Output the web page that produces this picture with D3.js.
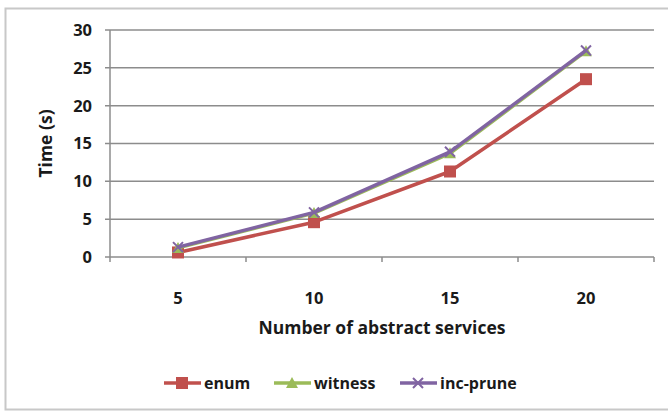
<!DOCTYPE html>
<html>
<head>
<meta charset="utf-8">
<script src="https://cdn.jsdelivr.net/npm/d3@7"></script>
<style>
  body { margin: 0; background: #fff; }
  svg { display: block; font-family: "Open Sans", "Liberation Sans", sans-serif; }
</style>
</head>
<body>
<div id="chart"></div>
<script>
// Time vs number of abstract services

const categories = ["5", "10", "15", "20"];
const enumValues = [0.6, 4.6, 11.3, 23.5];
const witnessValues = [1.2, 5.8, 13.7, 27.2];
const incPruneValues = [1.3, 5.9, 13.9, 27.3];
const yTicks = [0, 5, 10, 15, 20, 25, 30];

const seriesNames = ["enum", "witness", "inc-prune"];
const seriesColors = ["#c0504d", "#9bbb59", "#8064a2"];
const seriesValues = [enumValues, witnessValues, incPruneValues];

const width = 668;
const height = 411;
const margin = { top: 30, right: 14, bottom: 154, left: 110 };

const svg = d3.select("#chart")
  .append("svg")
  .attr("width", width)
  .attr("height", height);

// outer frame
svg.append("rect")
  .attr("x", 5.5)
  .attr("y", 8.5)
  .attr("width", 670)
  .attr("height", 401)
  .attr("fill", "#fff")
  .attr("stroke", "#c8c8c8")
  .attr("stroke-width", 2);

const x = d3.scaleBand()
  .domain(categories)
  .range([margin.left, width - margin.right]);

const y = d3.scaleLinear()
  .domain([0, 30])
  .range([height - margin.bottom, margin.top]);

// --- GRID ---
svg.append("g")
  .selectAll("line")
  .data(yTicks)
  .join("line")
  .attr("x1", margin.left - 5)
  .attr("x2", width - margin.right)
  .attr("y1", d => y(d))
  .attr("y2", d => y(d))
  .attr("stroke", "#8c8c8c")
  .attr("stroke-width", 1.5);

// y axis line
svg.append("line")
  .attr("x1", margin.left)
  .attr("x2", margin.left)
  .attr("y1", y(30))
  .attr("y2", y(0))
  .attr("stroke", "#8c8c8c")
  .attr("stroke-width", 1.5);

// x category ticks
const boundaries = categories.map(c => x(c)).concat([x.range()[1]]);
svg.append("g")
  .selectAll("line")
  .data(boundaries)
  .join("line")
  .attr("x1", d => d)
  .attr("x2", d => d)
  .attr("y1", y(0))
  .attr("y2", y(0) + 5)
  .attr("stroke", "#8c8c8c")
  .attr("stroke-width", 1.5);

// y tick labels
svg.append("g")
  .selectAll("text")
  .data(yTicks)
  .join("text")
  .attr("x", margin.left - 18)
  .attr("y", d => y(d))
  .attr("dy", "0.36em")
  .attr("text-anchor", "end")
  .style("font-size", "16.5px")
  .style("font-weight", "bold")
  .style("fill", "#1a1a1a")
  .text(d => d);

// x tick labels
svg.append("g")
  .selectAll("text")
  .data(categories)
  .join("text")
  .attr("x", d => x(d) + x.bandwidth() / 2)
  .attr("y", y(0) + 47)
  .attr("text-anchor", "middle")
  .style("font-size", "16.5px")
  .style("font-weight", "bold")
  .style("fill", "#1a1a1a")
  .text(d => d);

// axis titles
svg.append("text")
  .attr("transform", `translate(52,${(y(0) + y(30)) / 2}) rotate(-90)`)
  .attr("text-anchor", "middle")
  .style("font-size", "17.5px")
  .style("font-weight", "bold")
  .style("fill", "#1a1a1a")
  .text("Time (s)");

svg.append("text")
  .attr("x", 382)
  .attr("y", 334)
  .attr("text-anchor", "middle")
  .style("font-size", "17.5px")
  .style("font-weight", "bold")
  .style("fill", "#1a1a1a")
  .text("Number of abstract services");

// --- MARKERS ---
function drawMarker(g, type, color, cx, cy) {
  if (type === 0) {
    g.append("rect")
      .attr("x", cx - 6).attr("y", cy - 6)
      .attr("width", 12).attr("height", 12)
      .attr("fill", color);
  } else if (type === 1) {
    g.append("path")
      .attr("d", `M${cx},${cy - 6}L${cx + 6},${cy + 5}L${cx - 6},${cy + 5}Z`)
      .attr("fill", color);
  } else {
    g.append("path")
      .attr("d", `M${cx - 5},${cy - 5}L${cx + 5},${cy + 5}M${cx - 5},${cy + 5}L${cx + 5},${cy - 5}`)
      .attr("stroke", color)
      .attr("stroke-width", 2);
  }
}

// --- LINES ---
const line = d3.line()
  .x((d, i) => x(categories[i]) + x.bandwidth() / 2)
  .y(d => y(d));

seriesValues.forEach((vals, s) => {
  const g = svg.append("g");
  g.append("path")
    .datum(vals)
    .attr("d", line)
    .attr("fill", "none")
    .attr("stroke", seriesColors[s])
    .attr("stroke-width", 3.5)
    .attr("stroke-linejoin", "round");
  vals.forEach((v, i) => {
    drawMarker(g, s, seriesColors[s], x(categories[i]) + x.bandwidth() / 2, y(v));
  });
});

// --- LEGEND ---
const legendX = [164, 274, 400];
const legendY = 383;
seriesNames.forEach((name, s) => {
  const g = svg.append("g");
  g.append("line")
    .attr("x1", legendX[s])
    .attr("x2", legendX[s] + 37)
    .attr("y1", legendY)
    .attr("y2", legendY)
    .attr("stroke", seriesColors[s])
    .attr("stroke-width", 3.5);
  drawMarker(g, s, seriesColors[s], legendX[s] + 18, legendY);
  g.append("text")
    .attr("x", legendX[s] + 40)
    .attr("y", legendY)
    .attr("dy", "0.36em")
    .style("font-size", "16px")
    .style("font-weight", "bold")
    .style("fill", "#1a1a1a")
    .text(name);
});
</script>
</body>
</html>
